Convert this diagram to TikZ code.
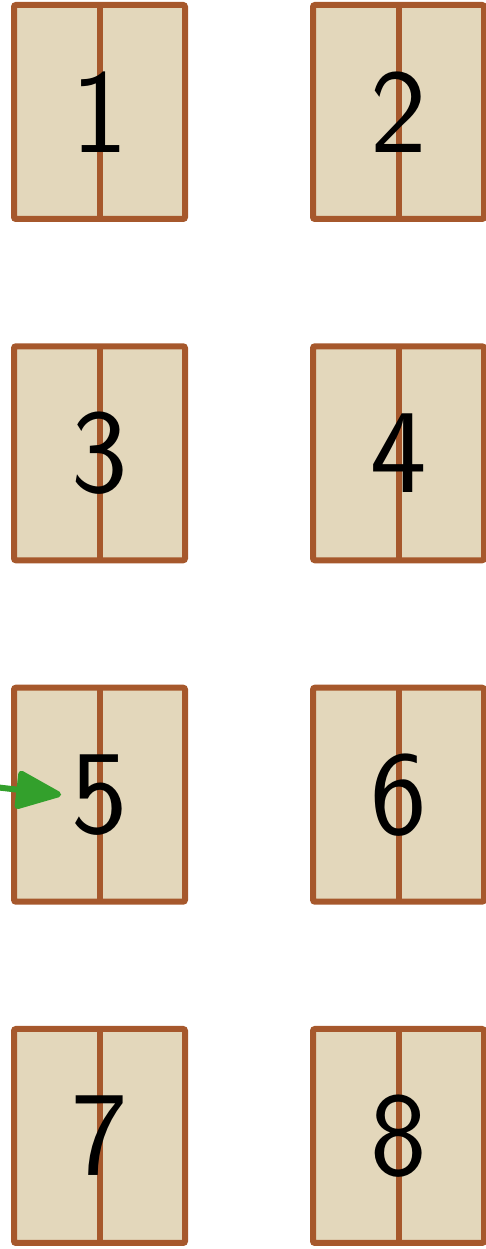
\documentclass[tikz,border=0pt]{standalone}
\usetikzlibrary{arrows.meta}
\definecolor{boxfill}{RGB}{227,215,187}
\definecolor{boxline}{RGB}{166,88,44}
\definecolor{arrgreen}{RGB}{51,160,44}
\begin{document}
\begin{tikzpicture}[x=1pt,y=1pt,
  cell/.style={draw=boxline, fill=boxfill, line width=6pt, rounded corners=2pt,
    minimum width=171pt, minimum height=214pt, inner sep=0pt, outer sep=0pt},
  num/.style={font=\sffamily\fontsize{120}{120}\selectfont, inner sep=2pt},
  divider/.style={draw=boxline, line width=6pt},
  link/.style={draw=arrgreen, line width=6pt, -{Triangle[length=50pt,width=40pt,round]}}]
\useasboundingbox (0,0) rectangle (485,1249);
\foreach \i/\x/\y in {1/99.5/1137, 2/398.5/1137, 3/99.5/795.7, 4/398.5/795.7,
                      5/99.5/454.3, 6/398.5/454.3, 7/99.5/113, 8/398.5/113} {
  \node[cell] (b\i) at (\x,\y) {};
  \draw[divider] (b\i.north) -- (b\i.south);
  \node[num] (t\i) at (b\i.center) {\i};
}
\coordinate (src) at (-10,462.5);
\draw[link] (src) -- ([xshift=-8pt,yshift=0pt]t5.west);
\end{tikzpicture}
\end{document}
